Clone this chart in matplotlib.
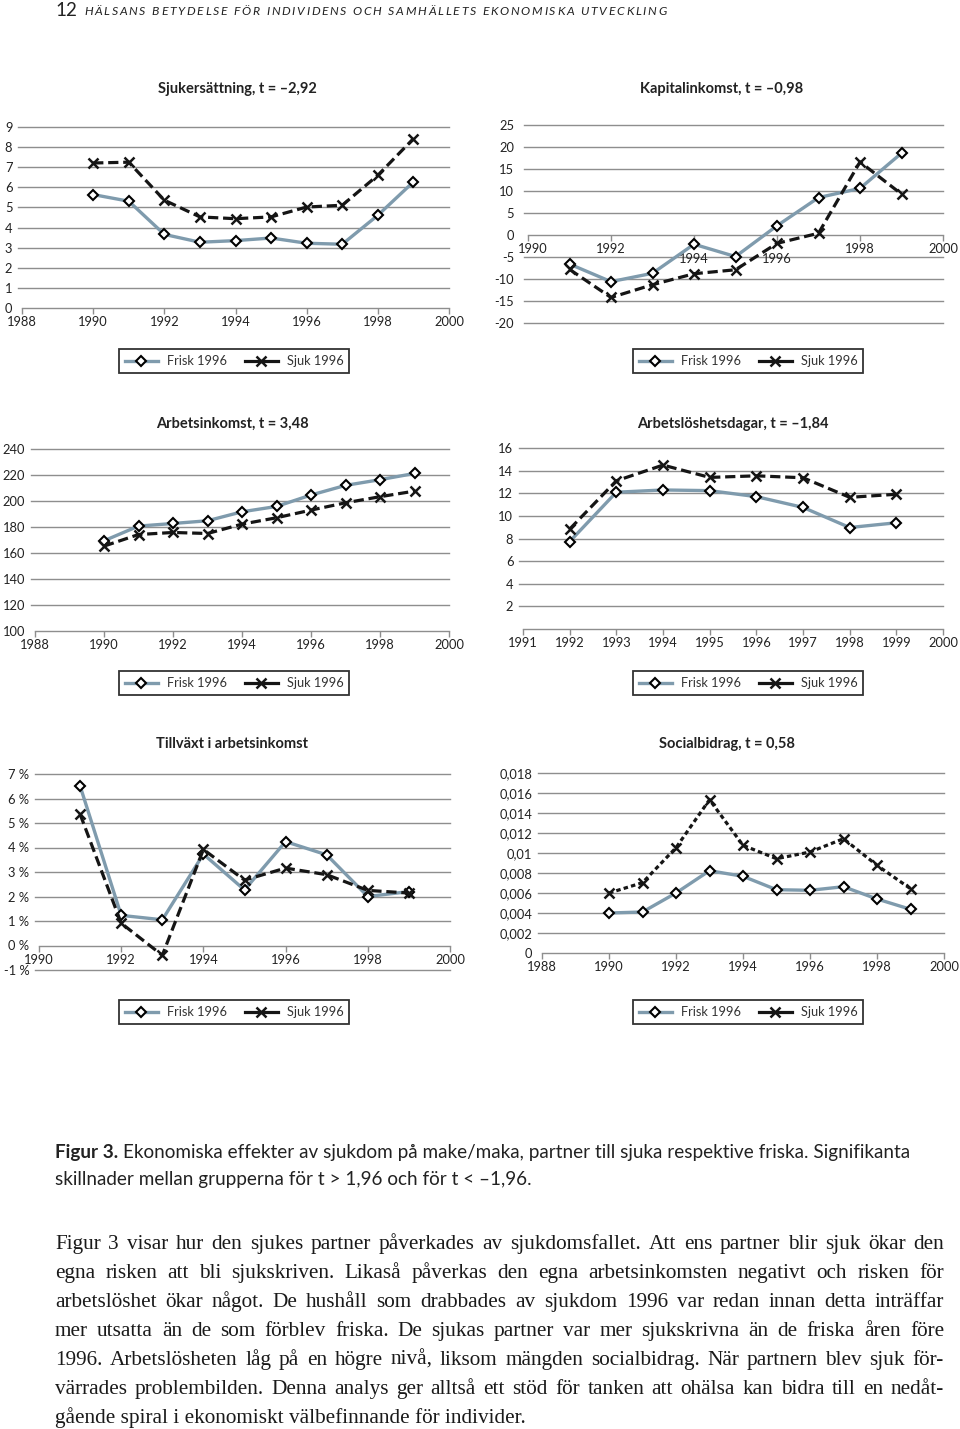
import matplotlib.pyplot as plt
from matplotlib.lines import Line2D
from matplotlib.transforms import ScaledTranslation

plt.rcParams['font.family'] = ['Lato', 'DejaVu Sans']

W, H = 960, 1429
fig = plt.figure(figsize=(W / 100, H / 100), dpi=100)

FRISK_C = '#7f9bad'
SJUK_C = '#151515'
GRID_C = '#8e8e8e'

# --- data ---
years_90 = list(range(1990, 2000))
years_91 = list(range(1991, 2000))
years_92 = list(range(1992, 2000))

sjukers_frisk = [5.64, 5.31, 3.66, 3.27, 3.35, 3.48, 3.22, 3.17, 4.61, 6.27]
sjukers_sjuk = [7.21, 7.25, 5.36, 4.53, 4.44, 4.53, 5.02, 5.11, 6.60, 8.42]

kapital_frisk = [-6.6, -10.6, -8.7, -2.1, -4.9, 2.1, 8.5, 10.6, 18.6]
kapital_sjuk = [-7.8, -14.2, -11.3, -8.8, -7.9, -1.9, 0.4, 16.6, 9.3]

arbink_frisk = [169.4, 180.7, 182.7, 184.8, 191.7, 195.8, 204.6, 212.0, 216.4, 221.2]
arbink_sjuk = [165.3, 174.2, 175.8, 175.0, 182.2, 187.1, 193.0, 198.6, 203.3, 207.6]

arblos_frisk = [7.73, 12.09, 12.29, 12.23, 11.70, 10.75, 8.97, 9.39]
arblos_sjuk = [8.83, 13.10, 14.49, 13.40, 13.54, 13.37, 11.64, 11.91]

tillv_frisk = [6.51, 1.23, 1.05, 3.73, 2.27, 4.24, 3.70, 2.00, 2.20]
tillv_sjuk = [5.36, 0.91, -0.40, 3.92, 2.67, 3.16, 2.89, 2.25, 2.14]

social_frisk = [0.0040, 0.0041, 0.0060, 0.00823, 0.00767, 0.00633, 0.00627, 0.00663, 0.0054, 0.00437]
social_sjuk = [0.0060, 0.00703, 0.01053, 0.01533, 0.01077, 0.00943, 0.0101, 0.01143, 0.00877, 0.00643]

titles = ['Sjukersättning, t = –2,92', 'Kapitalinkomst, t = –0,98',
          'Arbetsinkomst, t = 3,48', 'Arbetslöshetsdagar, t = –1,84',
          'Tillväxt i arbetsinkomst', 'Socialbidrag, t = 0,58']
legend_labels = ['Frisk 1996', 'Sjuk 1996']

yt_sjukers = list(range(0, 10))
yt_kapital = list(range(-20, 30, 5))
yt_arbink = list(range(100, 260, 20))
yt_arblos = list(range(2, 18, 2))
yt_tillv = list(range(-1, 8))
yl_tillv = ['%d %%' % v for v in yt_tillv]
yt_social = [0, 0.002, 0.004, 0.006, 0.008, 0.01, 0.012, 0.014, 0.016, 0.018]
yl_social = ['0', '0,002', '0,004', '0,006', '0,008', '0,01', '0,012', '0,014', '0,016', '0,018']

xt_even = list(range(1988, 2001, 2))
xt_even90 = list(range(1990, 2001, 2))
xt_all91 = list(range(1991, 2001))

LONG_DASH = (0, (3.2, 1.5))
SHORT_DASH = (0, (1.4, 1.0))


def panel(box, xlim, ylim, yticks, ylabels, xticks, fx, fy, sx, sy, title,
          title_pos, legend_pos, dash=LONG_DASH, zero_axis=False, ypad=7):
    x0, yt, x1, yb = box
    ax = fig.add_axes([x0 / W, 1 - yb / H, (x1 - x0) / W, (yb - yt) / H])
    ax.set_xlim(*xlim)
    ax.set_ylim(*ylim)
    for s in ['top', 'right', 'left']:
        ax.spines[s].set_visible(False)
    ax.spines['bottom'].set_color(GRID_C)
    ax.spines['bottom'].set_linewidth(1.0)
    axis_y = 0 if zero_axis else ylim[0]
    if zero_axis:
        ax.spines['bottom'].set_position(('data', 0))
    ax.set_yticks(yticks)
    ax.set_yticklabels(ylabels if ylabels else [str(v) for v in yticks])
    ax.tick_params(axis='y', length=0, pad=ypad, labelsize=9.3, colors='#222222')
    ax.set_xticks(xticks)
    ax.set_xticklabels([str(v) for v in xticks])
    ax.tick_params(axis='x', direction='out', length=4, width=1, color=GRID_C,
                   labelsize=9.3, labelcolor='#222222', pad=2)
    ext = -4.0 / (x1 - x0)
    for y in yticks:
        if y != axis_y:
            ax.axhline(y, xmin=ext, xmax=1, color=GRID_C, lw=1.0, zorder=1,
                       clip_on=False)
    ax.plot(fx, fy, color=FRISK_C, lw=2.4, marker='D', ms=5.5, mfc='white',
            mec='black', mew=1.5, zorder=3)
    ax.plot(sx, sy, color=SJUK_C, lw=2.3, ls=dash, marker='x', ms=7,
            mec=SJUK_C, mew=1.8, zorder=4)
    fig.text(title_pos[0] / W, 1 - title_pos[1] / H, title, ha='center',
             va='center', fontsize=10.5, fontweight='bold', color='#222222')
    handles = [
        Line2D([], [], color=FRISK_C, lw=2.4, marker='D', ms=5.5, mfc='white',
               mec='black', mew=1.5),
        Line2D([], [], color=SJUK_C, lw=2.3, marker='x', ms=7, mec=SJUK_C, mew=1.8),
    ]
    leg = ax.legend(handles, legend_labels, ncol=2, loc='center',
                    bbox_to_anchor=(legend_pos[0] / W, 1 - legend_pos[1] / H),
                    bbox_transform=fig.transFigure, frameon=True, fancybox=False,
                    edgecolor='#333333', framealpha=1, fontsize=9.2,
                    handlelength=2.6, handletextpad=0.7, columnspacing=1.4,
                    borderpad=0.45)
    leg.get_frame().set_linewidth(1.3)
    for t in leg.get_texts():
        t.set_color('#333333')
    return ax


panel((22, 127, 449, 308), (1988, 2000), (0, 9), yt_sjukers, None, xt_even,
      years_90, sjukers_frisk, years_90, sjukers_sjuk, titles[0], (237, 89), (234, 361))

ax2 = panel((528, 125, 943, 323), (1990, 2000), (-20, 25), yt_kapital, None, xt_even90,
            years_91, kapital_frisk, years_91, kapital_sjuk, titles[1], (722, 89), (748, 361),
            zero_axis=True, ypad=10)
for tk, yr in zip(ax2.xaxis.get_major_ticks(), xt_even90):
    if yr in (1994, 1996):
        tk.set_pad(9)
first = ax2.xaxis.get_major_ticks()[0].label1
first.set_transform(first.get_transform() + ScaledTranslation(0.05, 0, fig.dpi_scale_trans))

panel((35, 449, 449, 631), (1988, 2000), (100, 240), yt_arbink, None, xt_even,
      years_90, arbink_frisk, years_90, arbink_sjuk, titles[2], (232, 424), (234, 683))

panel((523, 448, 943, 629), (1991, 2000), (0, 16), yt_arblos, None, xt_all91,
      years_92, arblos_frisk, years_92, arblos_sjuk, titles[3], (733, 424), (748, 683))

panel((39, 774, 450, 970), (1990, 2000), (-1, 7), yt_tillv, yl_tillv, xt_even90,
      years_91, tillv_frisk, years_91, tillv_sjuk, titles[4], (232, 744), (234, 1012),
      zero_axis=True)

panel((542, 773, 944, 953), (1988, 2000), (0, 0.018), yt_social, yl_social, xt_even,
      years_90, social_frisk, years_90, social_sjuk, titles[5], (727, 744), (748, 1012),
      dash=SHORT_DASH)

# --- page text ---
renderer = fig.canvas.get_renderer()


def width_of(t):
    return t.get_window_extent(renderer).width


def tracked(x, y, s, track, **kw):
    probe = fig.text(0, 0, 'A A', **kw)
    probe2 = fig.text(0, 0, 'AA', **kw)
    space = width_of(probe) - width_of(probe2)
    probe.remove()
    probe2.remove()
    for ch in s:
        if ch == ' ':
            x += space + track
            continue
        t = fig.text(x / W, 1 - y / H, ch, va='baseline', **kw)
        x += width_of(t) + track


fig.text(55 / W, 1 - 16 / H, '12', fontsize=13.5, va='baseline', color='#222222')
tracked(84, 15, 'HÄLSANS BETYDELSE FÖR INDIVIDENS OCH SAMHÄLLETS EKONOMISKA UTVECKLING',
        1.7, fontsize=8.8, style='italic', color='#222222')

cap_kw = dict(fontsize=13.6, color='#222222', va='baseline')
b = fig.text(55 / W, 1 - 1158 / H, 'Figur 3.', fontweight='bold', **cap_kw)
bx = 55 + width_of(b)
fig.text((bx + 5) / W, 1 - 1158 / H,
         'Ekonomiska effekter av sjukdom på make/maka, partner till sjuka respektive friska. Signifikanta',
         **cap_kw)
fig.text(55 / W, 1 - 1185 / H, 'skillnader mellan grupperna för t > 1,96 och för t < –1,96.', **cap_kw)

body = [
    'Figur 3 visar hur den sjukes partner påverkades av sjukdomsfallet. Att ens partner blir sjuk ökar den',
    'egna risken att bli sjukskriven. Likaså påverkas den egna arbetsinkomsten negativt och risken för',
    'arbetslöshet ökar något. De hushåll som drabbades av sjukdom 1996 var redan innan detta inträffar',
    'mer utsatta än de som förblev friska. De sjukas partner var mer sjukskrivna än de friska åren före',
    '1996. Arbetslösheten låg på en högre nivå, liksom mängden socialbidrag. När partnern blev sjuk för-',
    'värrades problembilden. Denna analys ger alltså ett stöd för tanken att ohälsa kan bidra till en nedåt-',
    'gående spiral i ekonomiskt välbefinnande för individer.',
]
body_kw = dict(fontsize=15.3, family=['Liberation Serif', 'DejaVu Serif'], color='#1a1a1a',
               va='baseline')
for i, line in enumerate(body):
    y = 1249 + 29 * i
    if i == len(body) - 1:
        fig.text(55 / W, 1 - y / H, line, **body_kw)
        continue
    words = line.split(' ')
    texts = [fig.text(0, 1 - y / H, w_, **body_kw) for w_ in words]
    widths = [width_of(t) for t in texts]
    gap = (944 - 55 - sum(widths)) / (len(words) - 1)
    x = 55
    for t, w_ in zip(texts, widths):
        t.set_x(x / W)
        x += w_ + gap

fig.savefig('out.png', dpi=100)
